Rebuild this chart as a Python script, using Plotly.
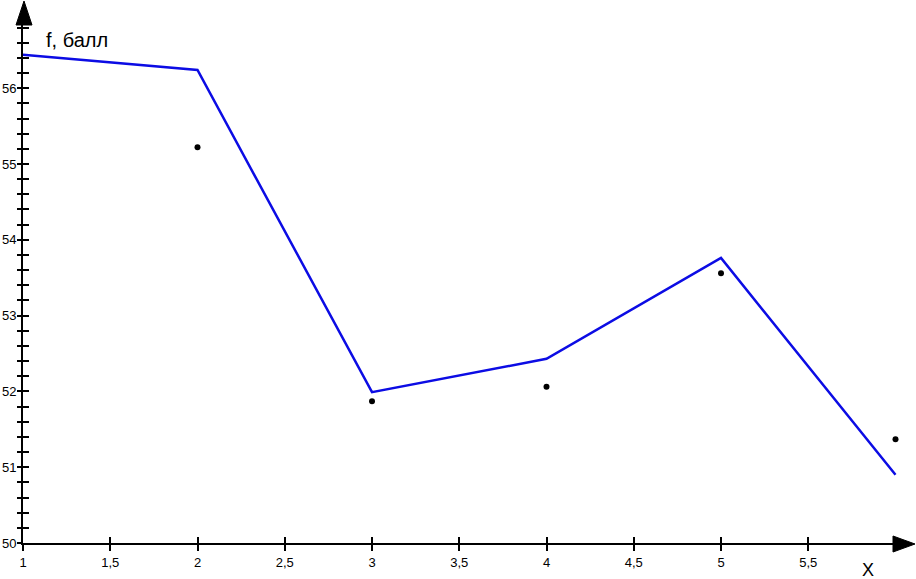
import plotly.graph_objects as go

# значения
x_vals = [1, 2, 3, 4, 5, 6]
f_line = [56.44, 56.24, 51.99, 52.43, 53.76, 50.90]
f_points = [55.22, 51.87, 52.06, 53.56, 51.37]
x_points = [2, 3, 4, 5, 6]

x_ticks = [1, 1.5, 2, 2.5, 3, 3.5, 4, 4.5, 5, 5.5]
x_ticktext = ["1", "1,5", "2", "2,5", "3", "3,5", "4", "4,5", "5", "5,5"]
y_ticks = [50, 51, 52, 53, 54, 55, 56]

W, H = 916, 579
L, R, T, B = 23, 16, 20, 36
pw, ph = W - L - R, H - T - B


def px(x):
    return (x - L) / pw


def py(y):
    return (H - B - y) / ph


font = "Liberation Sans, Arial, sans-serif"

fig = go.Figure()
fig.add_trace(go.Scatter(x=x_vals, y=f_line, mode="lines",
                         line=dict(color="#0c0ce4", width=2.5),
                         showlegend=False, cliponaxis=False))
fig.add_trace(go.Scatter(x=x_points, y=f_points, mode="markers",
                         marker=dict(color="black", size=6),
                         showlegend=False, cliponaxis=False))
# пустые следы для второго комплекта осей (риски внутрь)
fig.add_trace(go.Scatter(x=[None], y=[None], xaxis="x2", yaxis="y2",
                         showlegend=False, hoverinfo="skip"))

xr = [1, 1 + pw / 174.5]
yr = [50, 50 + ph / 75.8]

fig.update_layout(
    width=W, height=H,
    margin=dict(l=L, r=R, t=T, b=B, autoexpand=False),
    plot_bgcolor="white", paper_bgcolor="white",
    separators=", ",
    font=dict(family=font, size=13, color="black"),
    xaxis=dict(range=xr, showgrid=False, zeroline=False, automargin=False,
               showline=True, linecolor="black", linewidth=2,
               tickmode="array", tickvals=x_ticks, ticktext=x_ticktext,
               ticks="outside", ticklen=6, tickwidth=1.5, tickcolor="black"),
    yaxis=dict(range=yr, showgrid=False, zeroline=False, automargin=False,
               showline=True, linecolor="black", linewidth=2,
               tickmode="array", tickvals=y_ticks,
               ticks="outside", ticklen=4, tickwidth=2, tickcolor="black",
               ticklabelstandoff=-2,
               minor=dict(dtick=0.2, tick0=50, ticks="outside", ticklen=4,
                          tickwidth=2, tickcolor="black")),
    xaxis2=dict(range=xr, overlaying="x", showgrid=False, zeroline=False,
                showline=False, showticklabels=False, automargin=False,
                tickmode="array", tickvals=x_ticks[1:],
                ticks="inside", ticklen=6, tickwidth=1.5, tickcolor="black"),
    yaxis2=dict(range=yr, overlaying="y", showgrid=False, zeroline=False,
                showline=False, showticklabels=False, automargin=False,
                dtick=0.2, tick0=50,
                ticks="inside", ticklen=6, tickwidth=2, tickcolor="black"),
)

# стрелки осей
fig.add_shape(type="path", xref="paper", yref="paper",
              path=f"M {px(24)} {py(1)} L {px(16)} {py(25)} L {px(32)} {py(25)} Z",
              fillcolor="black", line=dict(color="black", width=1))
fig.add_shape(type="path", xref="paper", yref="paper",
              path=f"M {px(915)} {py(544)} L {px(893)} {py(536)} L {px(893)} {py(552)} Z",
              fillcolor="black", line=dict(color="black", width=1))

fig.add_annotation(text="f, балл", xref="paper", yref="paper",
                   x=px(44), y=py(40), xanchor="left", yanchor="middle",
                   showarrow=False, font=dict(family=font, size=20))
fig.add_annotation(text="X", xref="paper", yref="paper",
                   x=px(868), y=py(570), xanchor="center", yanchor="middle",
                   showarrow=False, font=dict(family=font, size=18))

fig.write_html("out.html", config={"displayModeBar": False},
               post_script="document.body.style.margin='0px';document.body.style.overflow='hidden';")
